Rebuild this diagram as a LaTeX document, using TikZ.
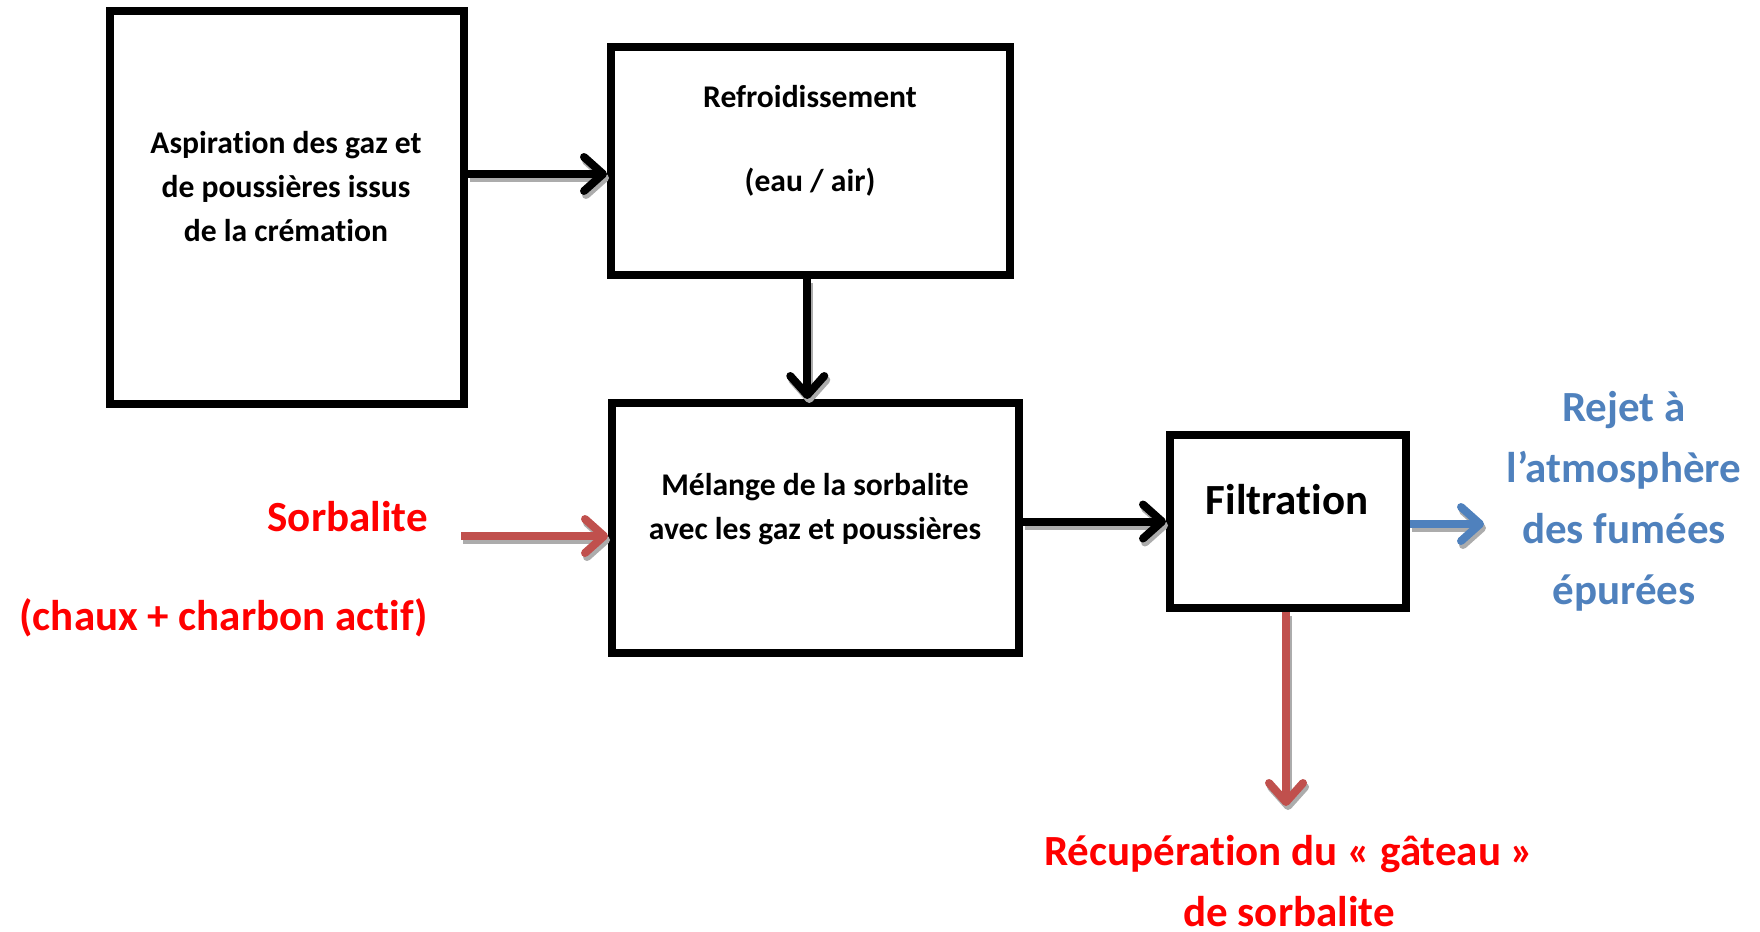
\documentclass[tikz,border=0pt]{standalone}
\usepackage{fontspec}
\setmainfont{Carlito}[Ligatures=NoCommon]
\usetikzlibrary{arrows.meta}
\definecolor{flowred}{HTML}{C0504D}
\definecolor{flowblue}{HTML}{4F81BD}
\definecolor{txtred}{HTML}{FF0000}
\tikzset{
  box/.style={draw, rectangle, line width=8pt, inner sep=0pt},
  small/.style={font=\fontsize{31.6}{44}\selectfont\bfseries, align=center, inner sep=0pt},
  big/.style={font=\fontsize{43}{61}\selectfont\bfseries, align=center, inner sep=0pt},
  flow/.style={line width=8pt, -{Straight Barb[length=19pt, width=34pt, line cap=round, line join=round]}},
  flowshade/.style={flow, gray!65, transform canvas={xshift=2pt, yshift=-4pt}}
}
% shaded arrow: colour, start, end
\newcommand{\flowarrow}[3]{\draw[flowshade] #2 -- #3; \draw[flow, #1] #2 -- #3;}
\begin{document}
\begin{tikzpicture}[x=1pt, y=-1pt]
\useasboundingbox (0,0) rectangle (1760,931);
% boxes
\node[box, minimum width=354pt, minimum height=393pt] (aspi) at (287,207.5) {};
\node[box, minimum width=398.5pt, minimum height=228pt] (refr) at (810.25,161) {};
\node[box, minimum width=407pt, minimum height=249.5pt] (melange) at (815.5,527.75) {};
\node[box, minimum width=235.5pt, minimum height=173pt] (filtr) at (1287.75,521.5) {};
% box texts
\node[small] (aspiT) at (286,187) {Aspiration des gaz et\\de poussières issus\\de la crémation};
\node[small] (refrT) at (810,141) {Refroidissement\\[40pt](eau / air)};
\node[small] (melT) at (815,509.5) {Mélange de la sorbalite\\avec les gaz et poussières};
\node[big] (filtT) at (1287,500) {Filtration};
% side texts
\node[big, text=txtred, anchor=east] (sorbT) at (428,517) {Sorbalite};
\node[big, text=txtred, anchor=east] (chauxT) at (428,618) {(chaux + charbon actif)};
\node[big, text=flowblue] (rejetT) at (1624,501.5) {Rejet à\\l’atmosphère\\des fumées\\épurées};
\node[big, text=txtred] (gateauT) at (1289,881) {Récupération du « gâteau »\\de sorbalite};
% connectors
\coordinate (inB) at ([yshift=-13pt]refr.west);
\coordinate (outB) at ([xshift=-3pt]refr.south);
\coordinate (inC) at ([yshift=-8.25pt]melange.west);
\coordinate (sorbIn) at (461,536);
\coordinate (rejet) at (1484,524);
\coordinate (gateau) at (1286,806);
\flowarrow{black}{(aspi.east |- inB)}{(inB)}
\flowarrow{black}{(outB)}{(outB |- melange.north)}
\flowarrow{flowred}{(sorbIn)}{(inC)}
\flowarrow{black}{(melange.east |- filtr.west)}{(filtr.west)}
\flowarrow{flowblue}{(filtr.east |- rejet)}{(rejet)}
\flowarrow{flowred}{(gateau |- filtr.south)}{(gateau)}
\end{tikzpicture}
\end{document}
